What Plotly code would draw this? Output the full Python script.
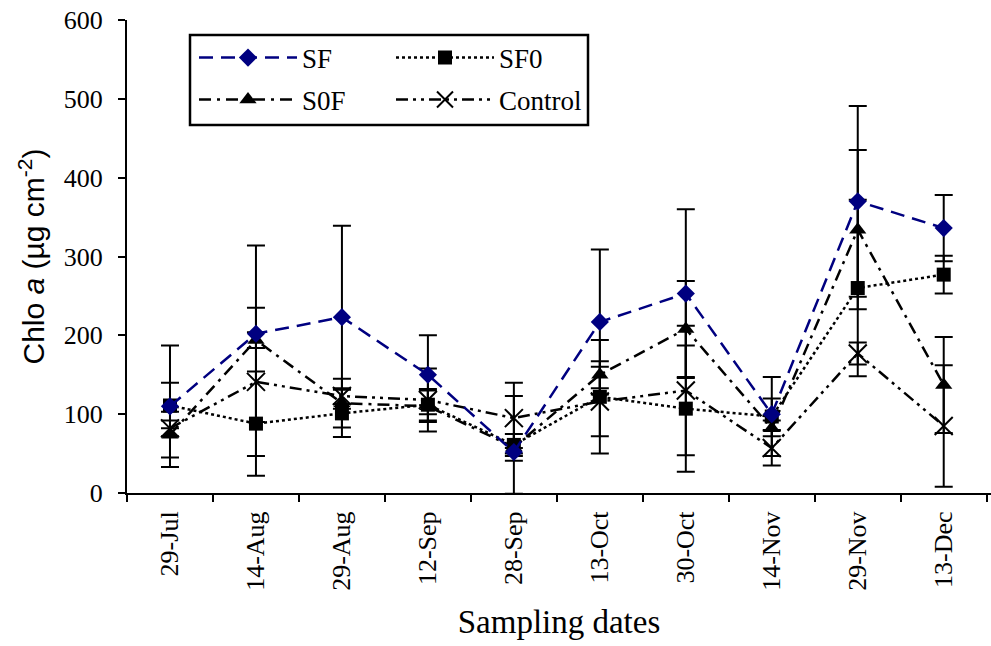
import plotly.graph_objects as go

dates = ["29-Jul", "14-Aug", "29-Aug", "12-Sep", "28-Sep", "13-Oct", "30-Oct", "14-Nov", "29-Nov", "13-Dec"]
sf = [110, 202, 223, 150, 52, 217, 253, 100, 370, 336]
sf0 = [111, 88, 101, 112, 61, 122, 107, 97, 260, 277]
s0f = [74, 194, 114, 110, 58, 150, 208, 82, 334, 137]
control = [82, 141, 123, 118, 95, 116, 130, 57, 177, 85]

sf_err = [77, 112, 116, 50, 5, 92, 107, 20, 121, 42]
sf0_err = [29, 66, 30, 20, 62, 72, 80, 50, 112, 24]
s0f_err = [29, 10, 31, 20, 17, 17, 61, 10, 101, 61]
control_err = [10, 94, 10, 40, 45, 44, 82, 22, 14, 77]

SERIF = "Times New Roman, Liberation Serif, serif"
SANS = "Arial, Liberation Sans, sans-serif"

def eb(vals):
    return dict(type="data", array=vals, visible=True, color="black", thickness=2, width=9)

fig = go.Figure()
fig.add_trace(go.Scatter(
    x=dates, y=sf0, name="SF0", mode="lines+markers", legend="legend3",
    line=dict(color="black", width=2.5, dash="dot"),
    marker=dict(symbol="square", size=14, color="black"),
    error_y=eb(sf0_err)))
fig.add_trace(go.Scatter(
    x=dates, y=s0f, name="S0F", mode="lines+markers", legend="legend4",
    line=dict(color="black", width=2.5, dash="12px,6px,3px,6px"),
    marker=dict(symbol="triangle-up", size=15, color="black"),
    error_y=eb(s0f_err)))
fig.add_trace(go.Scatter(
    x=dates, y=control, name="Control", mode="lines+markers", legend="legend5",
    line=dict(color="black", width=2.5, dash="12px,5px,3px,5px,3px,5px"),
    marker=dict(symbol="x-thin", size=18, color="black", line=dict(color="black", width=2)),
    error_y=eb(control_err)))
fig.add_trace(go.Scatter(
    x=dates, y=sf, name="SF", mode="lines+markers", legend="legend2",
    line=dict(color="#000080", width=2.5, dash="14px,8px"),
    marker=dict(symbol="diamond", size=14, color="#000080"),
    error_y=eb(sf_err)))

def lg(xpx, ypx):
    return dict(x=(xpx - 127) / 864, y=(493 - ypx) / 473, xanchor="left", yanchor="middle",
                bgcolor="rgba(0,0,0,0)", borderwidth=0, itemwidth=98,
                font=dict(family=SERIF, size=27, color="black"))

fig.update_layout(
    width=991, height=646,
    margin=dict(l=127, r=0, t=20, b=153),
    paper_bgcolor="white", plot_bgcolor="white",
    showlegend=True,
    legend=dict(visible=False),
    legend2=lg(194, 58), legend3=lg(391, 58), legend4=lg(194, 100), legend5=lg(391, 100),
    xaxis=dict(
        type="category", range=[-0.5, 9.55], tickson="boundaries",
        showline=True, linecolor="black", linewidth=2,
        ticks="outside", ticklen=7, tickwidth=2, tickcolor="black",
        tickangle=-90, tickfont=dict(family=SERIF, size=26, color="black"),
        ticklabelstandoff=6,
        showgrid=False, zeroline=False,
        title=dict(text="Sampling dates", font=dict(family=SERIF, size=33, color="black"), standoff=20),
    ),
    yaxis=dict(
        range=[0, 600], dtick=100, showline=True, linecolor="black", linewidth=2,
        ticks="outside", ticklen=7, tickwidth=2, tickcolor="black",
        tickfont=dict(family=SERIF, size=26, color="black"),
        ticklabelstandoff=10,
        showgrid=False, zeroline=False,
        title=dict(text="Chlo <i>a</i> (µg cm<sup>-2</sup>)", font=dict(family=SANS, size=30, color="black"), standoff=10),
    ),
    shapes=[dict(type="rect", xref="paper", yref="paper",
                 x0=(190 - 127) / 864, x1=(588 - 127) / 864,
                 y0=(493 - 125) / 473, y1=(493 - 35) / 473,
                 line=dict(color="black", width=2.5), fillcolor="rgba(0,0,0,0)")],
)

fig.write_html("out.html", config={"displayModeBar": False},
               post_script="document.body.style.margin='0';")
